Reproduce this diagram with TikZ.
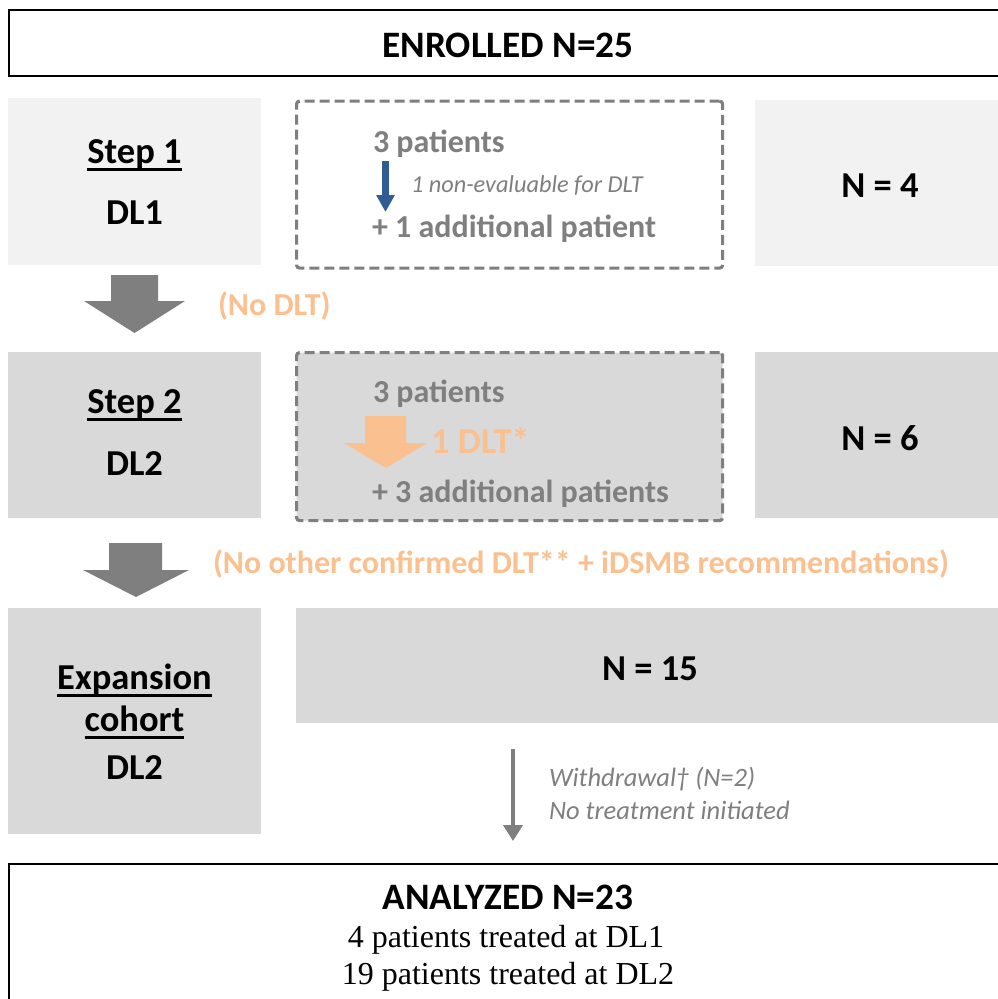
\documentclass[tikz,border=0pt]{standalone}
\usepackage{fontspec}
\setmainfont{Liberation Serif}
\newfontfamily\calib{Carlito}
\usetikzlibrary{arrows.meta}
\definecolor{txtgray}{HTML}{7F7F7F}
\definecolor{lightbox}{HTML}{F2F2F2}
\definecolor{midbox}{HTML}{D9D9D9}
\definecolor{peach}{HTML}{FAC090}
\definecolor{darkblue}{HTML}{2F5D94}
\newcommand{\fs}[1]{\fontsize{#1}{#1}\selectfont}
\newcommand{\myul}[1]{\setbox0\hbox{#1}\rlap{\rule[-7.5pt]{\wd0}{2.6pt}}\box0}
\begin{document}
\begin{tikzpicture}[x=1pt,y=-1pt,
  panel/.style={draw=none, inner sep=0pt, outer sep=0pt, anchor=north west},
  outline/.style={draw=black, line width=1.6pt, fill=white, inner sep=0pt, anchor=north west},
  dashbox/.style={draw=txtgray, line width=3.2pt, dash pattern=on 10pt off 5pt, rounded corners=3pt, inner sep=0pt, anchor=north west},
  lbl/.style={inner sep=0pt, outer sep=0pt, anchor=base, font=\calib\bfseries\fs{36.5}},
  gtxt/.style={inner sep=0pt, outer sep=0pt, anchor=base west, text=txtgray, font=\calib\bfseries\fs{32}},
  note/.style={inner sep=0pt, outer sep=0pt, anchor=base west, text=txtgray, font=\calib\itshape\fs{24.3}},
  cond/.style={inner sep=0pt, outer sep=0pt, anchor=base west, text=peach, font=\calib\bfseries\fs{32}},
  serif/.style={inner sep=0pt, outer sep=0pt, anchor=base, font=\fs{32}},
]
\useasboundingbox (0,0) rectangle (997,999);

% top box
\node[outline, minimum width=1000pt, minimum height=66pt] (enr) at (8,9) {};
\node[lbl, font=\calib\bfseries\fs{37.3}] (enrt) at (508,57) {ENROLLED N=25};

% row 1
\node[panel, fill=lightbox, minimum width=253pt, minimum height=167pt] (s1) at (8,98) {};
\node[dashbox, fill=white, minimum width=426pt, minimum height=167pt] (d1) at (295,99.5) {};
\node[panel, fill=lightbox, minimum width=245pt, minimum height=166pt] (n4) at (755,100) {};
\node[lbl] (s1a) at (134.5,163) {\myul{Step 1}};
\node[lbl] (s1b) at (134.5,224) {DL1};
\node[lbl] (n4t) at (880,197) {N = 4};
\node[gtxt] (p1a) at (373,152) {3 patients};
\node[note] (p1n) at (411,192) {1 non-evaluable for DLT};
\node[gtxt] (p1b) at (372,237) {+ 1 additional patient};
\coordinate (b1s) at (385.5,161);
\coordinate (b1e) at (385.5,212);
\draw[darkblue, line width=7pt, -{Triangle[width=17.5pt,length=17pt]}] (b1s) -- (b1e);

% arrow 1
\fill[txtgray] (111,275) -- (158,275) -- (158,301) -- (185,301) -- (134.5,333) -- (84,301) -- (111,301) -- cycle;
\node[cond] (c1) at (218,315) {(No DLT)};

% row 2
\node[panel, fill=midbox, minimum width=253pt, minimum height=166pt] (s2) at (8,352) {};
\node[dashbox, fill=midbox, minimum width=426pt, minimum height=168pt] (d2) at (295,351) {};
\node[panel, fill=midbox, minimum width=245pt, minimum height=166pt] (n6) at (755,352) {};
\node[lbl] (s2a) at (134.5,413) {\myul{Step 2}};
\node[lbl] (s2b) at (134.5,475) {DL2};
\node[lbl] (n6t) at (880,450) {N = 6};
\node[gtxt] (p2a) at (373,402) {3 patients};
\fill[peach] (365,416) -- (406,416) -- (406,443) -- (427,443) -- (386,468) -- (344,443) -- (365,443) -- cycle;
\node[cond, font=\calib\bfseries\fs{36.5}] (p2d) at (431,453) {1 DLT*};
\node[gtxt] (p2b) at (372,502) {+ 3 additional patients};

% arrow 2
\fill[txtgray] (109,543) -- (162,543) -- (162,570) -- (189,570) -- (136,597) -- (83,570) -- (109,570) -- cycle;
\node[cond] (c2) at (213,573) {(No other confirmed DLT** + iDSMB recommendations)};

% row 3
\node[panel, fill=midbox, minimum width=253pt, minimum height=226pt] (s3) at (8,608) {};
\node[panel, fill=midbox, minimum width=705pt, minimum height=115pt] (n15) at (296,608) {};
\node[lbl] (s3a) at (134.5,689) {\myul{Expansion}};
\node[lbl] (s3b) at (134.5,731) {\myul{cohort}};
\node[lbl] (s3c) at (134.5,779) {DL2};
\node[lbl] (n15t) at (650,680) {N = 15};

% withdrawal
\coordinate (w1) at (513,749);
\coordinate (w2) at (513,841);
\draw[txtgray, line width=4pt, -{Triangle[width=19pt,length=16pt]}] (w1) -- (w2);
\node[note, font=\calib\itshape\fs{26.5}] (wa) at (549,786) {Withdrawal† (N=2)};
\node[note, font=\calib\itshape\fs{26.5}] (wb) at (549,819) {No treatment initiated};

% bottom box
\node[outline, minimum width=1000pt, minimum height=150pt] (ana) at (8,863) {};
\node[lbl, font=\calib\bfseries\fs{37.3}] (anat) at (508,909) {ANALYZED N=23};
\node[serif] (ana1) at (506,947) {4 patients treated at DL1};
\node[serif] (ana2) at (508,984) {19 patients treated at DL2};
\end{tikzpicture}
\end{document}
